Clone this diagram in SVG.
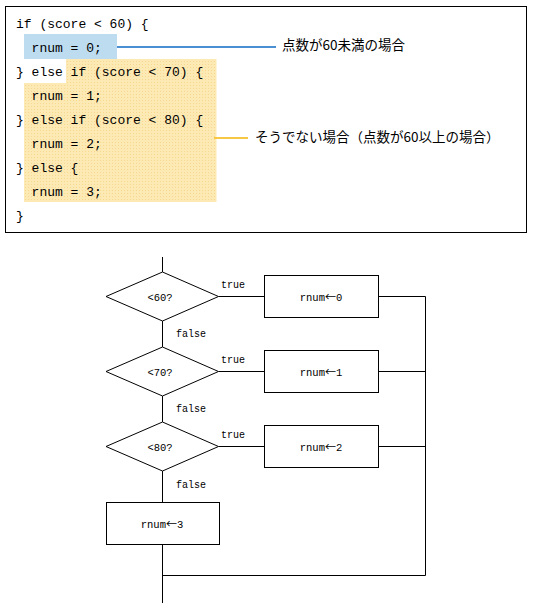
<svg xmlns="http://www.w3.org/2000/svg" width="535" height="612" viewBox="0 0 535 612">
<defs>
<style>
.code{font-family:"Liberation Mono","DejaVu Sans Mono",monospace;font-size:13px;fill:#000;white-space:pre}
.jp{font-family:"Noto Sans CJK JP","Noto Sans",sans-serif;font-size:13.5px;fill:#000}
.shape{fill:#fff;stroke:#000;stroke-width:1}
.lbl{font-family:"Liberation Mono","DejaVu Sans Mono",monospace;font-size:10px;fill:#000}
.ntxt{font-family:"Liberation Mono","DejaVu Sans Mono",monospace;font-size:10.5px;fill:#000;text-anchor:middle}
.arr{font-family:"Noto Sans CJK JP","DejaVu Sans",sans-serif;font-size:11px}
.conn line{stroke:#000;stroke-width:1}
</style>
<pattern id="dots" width="3" height="3" patternUnits="userSpaceOnUse">
<rect width="3" height="3" fill="#fde9b4"/>
<rect x="1" y="1" width="1" height="1" fill="#f6d98e"/>
</pattern>
</defs>
<rect width="535" height="612" fill="#fff"/>
<g id="code-block">
<rect x="5.5" y="6.5" width="521" height="226" fill="#fff" stroke="#000" stroke-width="1"/>
<rect x="24" y="34" width="93" height="25" fill="#bddcf0"/>
<path d="M66,59 H216.5 V202 H24 V83 H66 Z" fill="url(#dots)"/>
<text class="code" x="16" y="28" xml:space="preserve">if (score &lt; 60) {</text>
<text class="code" x="16" y="52" xml:space="preserve">  rnum = 0;</text>
<text class="code" x="16" y="76" xml:space="preserve">} else if (score &lt; 70) {</text>
<text class="code" x="16" y="100" xml:space="preserve">  rnum = 1;</text>
<text class="code" x="16" y="124" xml:space="preserve">} else if (score &lt; 80) {</text>
<text class="code" x="16" y="148" xml:space="preserve">  rnum = 2;</text>
<text class="code" x="16" y="172" xml:space="preserve">} else {</text>
<text class="code" x="16" y="196" xml:space="preserve">  rnum = 3;</text>
<text class="code" x="16" y="220" xml:space="preserve">}</text>
<line x1="117" y1="47" x2="276" y2="47" stroke="#4a8fd1" stroke-width="2"/>
<line x1="214" y1="138" x2="248" y2="138" stroke="#f7c844" stroke-width="2"/>
<text class="jp" x="282" y="50">点数が60未満の場合</text>
<text class="jp" x="255" y="142">そうでない場合（点数が60以上の場合）</text>
</g>
<g id="connectors" class="conn">
<line x1="162.5" y1="257" x2="162.5" y2="272"/>
<line x1="162.5" y1="321" x2="162.5" y2="347"/>
<line x1="162.5" y1="396" x2="162.5" y2="422"/>
<line x1="162.5" y1="471" x2="162.5" y2="502.5"/>
<line x1="162.5" y1="544.5" x2="162.5" y2="603"/>
<line x1="218.5" y1="296.5" x2="264.5" y2="296.5"/>
<line x1="218.5" y1="371.5" x2="264.5" y2="371.5"/>
<line x1="218.5" y1="446.5" x2="264.5" y2="446.5"/>
<line x1="378.5" y1="296.5" x2="425.5" y2="296.5"/>
<line x1="378.5" y1="371.5" x2="425.5" y2="371.5"/>
<line x1="378.5" y1="446.5" x2="425.5" y2="446.5"/>
<line x1="425.5" y1="296.5" x2="425.5" y2="575.5"/>
<line x1="162.5" y1="575.5" x2="425.5" y2="575.5"/>
<text class="lbl" x="221" y="288">true</text>
<text class="lbl" x="176" y="336.5">false</text>
<text class="lbl" x="221" y="363">true</text>
<text class="lbl" x="176" y="411.5">false</text>
<text class="lbl" x="221" y="438">true</text>
<text class="lbl" x="176" y="487.5">false</text>
</g>
<g id="d60">
<polygon class="shape" points="106,296.5 162.5,272 218.5,296.5 162.5,321"/>
<text class="ntxt" x="160" y="300.5">&lt;60?</text>
</g>
<g id="d70">
<polygon class="shape" points="106,371.5 162.5,347 218.5,371.5 162.5,396"/>
<text class="ntxt" x="160" y="375.5">&lt;70?</text>
</g>
<g id="d80">
<polygon class="shape" points="106,446.5 162.5,422 218.5,446.5 162.5,471"/>
<text class="ntxt" x="160" y="450.5">&lt;80?</text>
</g>
<g id="r0">
<rect class="shape" x="264.5" y="275.5" width="114" height="42"/>
<text class="ntxt" x="321" y="300.5">rnum<tspan class="arr">←</tspan>0</text>
</g>
<g id="r1">
<rect class="shape" x="264.5" y="350.5" width="114" height="42"/>
<text class="ntxt" x="321" y="375.5">rnum<tspan class="arr">←</tspan>1</text>
</g>
<g id="r2">
<rect class="shape" x="264.5" y="425.5" width="114" height="42"/>
<text class="ntxt" x="321" y="450.5">rnum<tspan class="arr">←</tspan>2</text>
</g>
<g id="r3">
<rect class="shape" x="106.5" y="502.5" width="113" height="42"/>
<text class="ntxt" x="162" y="527.5">rnum<tspan class="arr">←</tspan>3</text>
</g>
</svg>
